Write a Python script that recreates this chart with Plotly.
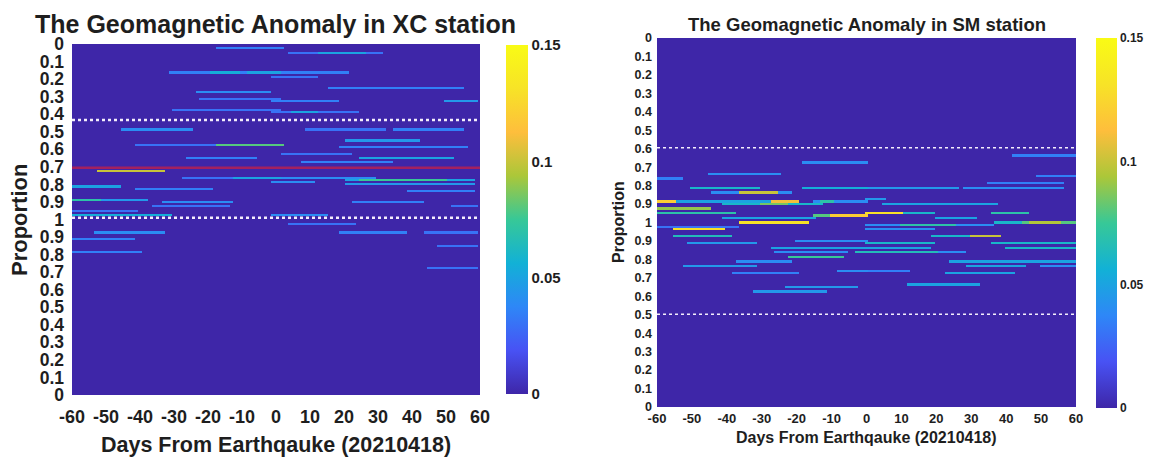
import numpy as np
import plotly.graph_objects as go

# ---------------- data ----------------
days = list(range(-60, 61))
ytick_pos = list(range(0, 21))
ytick_text = ['0', '0.1', '0.2', '0.3', '0.4', '0.5', '0.6', '0.7', '0.8', '0.9', '1',
              '0.9', '0.8', '0.7', '0.6', '0.5', '0.4', '0.3', '0.2', '0.1', '0']
xtick_vals = list(range(-60, 61, 10))
xtick_text = ['-60', '-50', '-40', '-30', '-20', '-10', '0', '10', '20', '30', '40', '50', '60']
cbar_vals = [0, 0.05, 0.1, 0.15]
cbar_text = ['0', '0.05', '0.1', '0.15']

# XC station anomaly segments: row position (tick units), start day, end day, value
xc_row = [0.25, 0.5, 0.5, 1.625, 1.625, 1.625, 1.625, 1.875, 2.75, 2.5, 3.125, 3.25, 3.25,
          3.75, 3.875, 3.875, 4.875, 4.875, 4.875, 5.75, 5.75, 5.5, 5.875, 6.5, 6.25, 6.5,
          6.75, 7.25, 7.625, 7.625, 7.625, 7.75, 7.75, 8.0, 7.875, 8.125, 8.25, 8.375,
          8.875, 8.875, 9.0, 9.25, 9.0, 9.25, 9.5, 9.75, 9.75, 10.25, 10.75, 10.75, 10.75,
          11.125, 11.875, 11.5, 12.75]
xc_start = [-17, 4, 13, -31, -19, -8, -1, -1, -23, 16, -22, -1, 50,
            -30, -1, 5, -45, 9, 35, -41, -17, 21, 19, -26, 2, 25,
            8, -52, -27, -12, -1, 21, 25, 21, -1, -60, -41, 39,
            -60, -60, -33, -36, 23, 52, -60, -60, -1, 4, -53, 19, 44,
            -60, -60, 48, 45]
xc_end = [2, 31, 26, 2, -11, 1, 21, 12, -2, 55, 1, 18, 59,
          1, 24, 12, -25, 32, 55, 1, 2, 42, 56, -6, 22, 52,
          34, -33, 1, 1, 29, 58, 50, 58, 11, -46, -19, 58,
          -38, -52, -13, -14, 43, 59, -41, -31, 15, 23, -33, 38, 59,
          -42, -40, 59, 59]
xc_val = [0.035, 0.03, 0.05, 0.035, 0.055, 0.05, 0.035, 0.03, 0.04, 0.035, 0.03, 0.035, 0.045,
          0.03, 0.03, 0.05, 0.04, 0.03, 0.035, 0.03, 0.08, 0.045, 0.035, 0.035, 0.03, 0.05,
          0.035, 0.1, 0.03, 0.05, 0.04, 0.05, 0.075, 0.045, 0.04, 0.05, 0.035, 0.035,
          0.045, 0.07, 0.04, 0.03, 0.035, 0.03, 0.03, 0.055, 0.04, 0.03, 0.04, 0.035, 0.03,
          0.035, 0.035, 0.03, 0.03]

# SM station anomaly segments
sm_row = [6.75, 6.375, 7.375, 7.5, 7.875, 7.625, 8.125, 8.375, 8.375, 8.125, 8.125, 8.125,
          8.875, 8.875, 8.875, 8.875, 8.875, 8.75, 9.0, 9.0, 9.0, 9.25, 9.5,
          9.625, 9.625, 9.5, 9.5, 9.5, 9.75, 9.75, 10.0, 10.0, 10.0, 10.0,
          10.125, 10.125, 10.25, 10.375, 10.375, 10.75, 10.75, 10.75,
          11.125, 11.125, 11.125, 11.0, 11.375, 11.375, 11.375, 11.625, 11.625, 11.625,
          11.875, 12.125, 12.125, 12.375, 12.375, 12.375, 12.625, 12.625, 12.75, 12.75,
          13.375, 13.5, 13.75]
sm_start = [-18, 42, -45, 49, 35, -60, -50, -44, -36, -18, -5, 28,
            -60, -55, -27, -15, -13, 0, 5, -41, -30, -60, -60,
            -15, -10, 0, 10, 36, 20, -41, -36, 45, 47, 37,
            0, 10, -60, -55, 0, -55, 19, 30,
            -51, 0, 36, -20, -27, 0, 40, -26, -3, 20,
            -22, -37, 24, -52, 29, 50, -8, 0, -38, 23,
            12, -23, -32]
sm_end = [0, 60, -25, 60, 56, -53, -31, -22, -26, 0, 26, 56,
          -55, -27, -20, 0, -10, 5, 37, -13, -23, -45, -38,
          0, 0, 10, 19, 46, 31, -15, -17, 60, 55, 45,
          36, 25, -37, -41, 19, -39, 38, 38,
          -32, 19, 60, 0, 0, 18, 60, -6, 20, 28,
          -7, -22, 60, -32, 45, 60, 0, 12, -20, 42,
          32, -3, -12]
sm_val = [0.04, 0.035, 0.04, 0.035, 0.035, 0.035, 0.06, 0.04, 0.1, 0.055, 0.045, 0.04,
          0.12, 0.05, 0.11, 0.04, 0.07, 0.045, 0.05, 0.06, 0.085, 0.09, 0.07,
          0.08, 0.12, 0.13, 0.06, 0.07, 0.05, 0.05, 0.13, 0.08, 0.095, 0.06,
          0.04, 0.07, 0.03, 0.13, 0.04, 0.065, 0.06, 0.1,
          0.045, 0.06, 0.06, 0.04, 0.05, 0.05, 0.06, 0.04, 0.065, 0.04,
          0.075, 0.04, 0.05, 0.045, 0.05, 0.04, 0.04, 0.035, 0.035, 0.05,
          0.05, 0.045, 0.045]

# reference (dashed) lines and the red line in XC panel
xc_dashed = [4.33, 9.9]
sm_dashed = [5.95, 14.97]
xc_red = [7.05]

# ---------------- build grids ----------------
row_step = 0.125
row_pos = np.arange(0, 20 + row_step / 2, row_step)


def build_grid(rows, starts, ends, vals):
    z = np.zeros((len(row_pos), len(days)))
    for r, s, e, v in zip(rows, starts, ends, vals):
        ri = int(round(r / row_step))
        z[ri, s + 60:e + 61] = np.maximum(z[ri, s + 60:e + 61], v)
    return z


z_xc = build_grid(xc_row, xc_start, xc_end, xc_val)
z_sm = build_grid(sm_row, sm_start, sm_end, sm_val)

parula = [
    [0.0, '#3e26a8'], [0.125, '#4852f4'], [0.25, '#2e87f7'], [0.375, '#12b1d6'],
    [0.5, '#37c897'], [0.625, '#abc739'], [0.75, '#febe3c'], [0.875, '#f7e327'],
    [1.0, '#f9fb15'],
]

FONT = 'Liberation Sans, Arial, sans-serif'
TXT = '#1e1e1e'
W, H = 1154, 458


def px(x):
    return x / W


def py(y):
    return 1 - y / H


fig = go.Figure()

fig.add_trace(go.Heatmap(
    x=days, y=row_pos, z=z_xc, zmin=0, zmax=0.15, colorscale=parula, zsmooth=False,
    xaxis='x', yaxis='y', hoverinfo='skip',
    colorbar=dict(x=px(506), xanchor='left', y=py(219.5), yanchor='middle',
                  len=349 / H, lenmode='fraction', thickness=22, thicknessmode='pixels',
                  xpad=0, ypad=0,
                  tickvals=cbar_vals, ticktext=cbar_text, outlinewidth=0, ticks='',
                  tickfont=dict(family=FONT, size=15, color=TXT, weight='bold')),
))
fig.add_trace(go.Heatmap(
    x=days, y=row_pos, z=z_sm, zmin=0, zmax=0.15, colorscale=parula, zsmooth=False,
    xaxis='x2', yaxis='y2', hoverinfo='skip',
    colorbar=dict(x=px(1096), xanchor='left', y=py(223), yanchor='middle',
                  len=370 / H, lenmode='fraction', thickness=21, thicknessmode='pixels',
                  xpad=0, ypad=0,
                  tickvals=cbar_vals, ticktext=cbar_text, outlinewidth=0, ticks='',
                  tickfont=dict(family=FONT, size=12, color=TXT, weight='bold')),
))

for yv in xc_red:
    fig.add_trace(go.Scatter(x=[days[0], days[-1]], y=[yv, yv], mode='lines',
                             line=dict(color='#a3215f', width=2.5), xaxis='x', yaxis='y',
                             hoverinfo='skip', showlegend=False))
for yv in xc_dashed:
    fig.add_trace(go.Scatter(x=[days[0], days[-1]], y=[yv, yv], mode='lines',
                             line=dict(color='#f4eefc', width=2.5, dash='dot'), xaxis='x', yaxis='y',
                             hoverinfo='skip', showlegend=False))
for yv in sm_dashed:
    fig.add_trace(go.Scatter(x=[days[0], days[-1]], y=[yv, yv], mode='lines',
                             line=dict(color='#f4eefc', width=1.5, dash='dot'), xaxis='x2', yaxis='y2',
                             hoverinfo='skip', showlegend=False))

common_x = dict(range=[-60, 60], tickvals=xtick_vals, ticktext=xtick_text, showgrid=False,
                zeroline=False, showline=False, ticks='', automargin=False)
common_y = dict(range=[20, 0], tickvals=ytick_pos, ticktext=ytick_text, showgrid=False,
                zeroline=False, showline=False, ticks='', automargin=False)

fig.update_layout(
    width=W, height=H, margin=dict(l=0, r=0, t=0, b=0),
    paper_bgcolor='white', plot_bgcolor='white', showlegend=False,
    xaxis=dict(domain=[px(72), px(480)], anchor='y', **common_x,
               tickfont=dict(family=FONT, size=18, color=TXT, weight='bold'), ticklabelstandoff=9),
    yaxis=dict(domain=[py(395), py(44)], anchor='x', **common_y,
               tickfont=dict(family=FONT, size=17.5, color=TXT, weight='bold'), ticklabelstandoff=7),
    xaxis2=dict(domain=[px(657), px(1076)], anchor='y2', **common_x,
                tickfont=dict(family=FONT, size=13, color=TXT, weight='bold'), ticklabelstandoff=2),
    yaxis2=dict(domain=[py(407), py(38)], anchor='x2', **common_y,
                tickfont=dict(family=FONT, size=12.5, color=TXT, weight='bold'), ticklabelstandoff=4),
)

ann = [
    dict(text='The Geomagnetic Anomaly in XC station', x=px(275), y=py(24), size=25),
    dict(text='Days From Earthqauke (20210418)', x=px(276), y=py(445), size=21.5),
    dict(text='The Geomagnetic Anomaly in SM station', x=px(867), y=py(24), size=18.5),
    dict(text='Days From Earthqauke (20210418)', x=px(866), y=py(437), size=16),
]
for a in ann:
    fig.add_annotation(text=a['text'], x=a['x'], y=a['y'], xref='paper', yref='paper',
                       xanchor='center', yanchor='middle', showarrow=False,
                       font=dict(family=FONT, size=a['size'], color=TXT, weight='bold'))
fig.add_annotation(text='Proportion', x=px(19), y=py(220), xref='paper', yref='paper',
                   xanchor='center', yanchor='middle', showarrow=False, textangle=-90,
                   font=dict(family=FONT, size=22, color=TXT, weight='bold'))
fig.add_annotation(text='Proportion', x=px(618), y=py(222), xref='paper', yref='paper',
                   xanchor='center', yanchor='middle', showarrow=False, textangle=-90,
                   font=dict(family=FONT, size=16, color=TXT, weight='bold'))

fig.write_html('out.html')
